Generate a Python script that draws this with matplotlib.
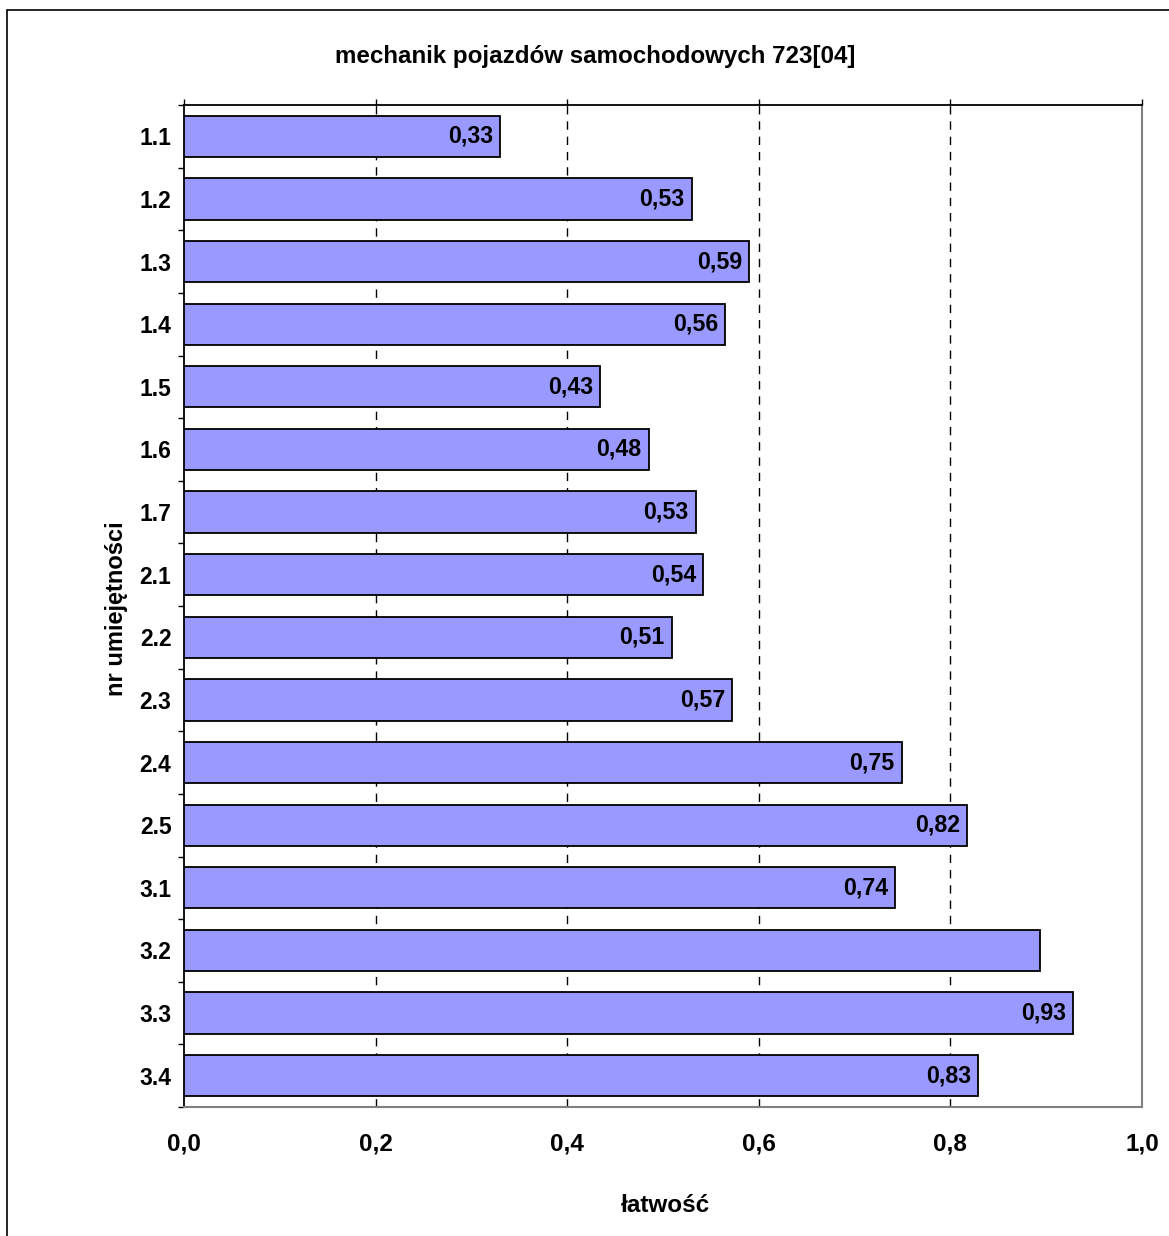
import matplotlib
matplotlib.use("Agg")
import matplotlib.pyplot as plt
from matplotlib.patches import Rectangle
from matplotlib.ticker import FixedLocator
import numpy as np

plt.rcParams['font.family'] = ['Liberation Sans', 'DejaVu Sans']

categories = ["1.1", "1.2", "1.3", "1.4", "1.5", "1.6", "1.7", "2.1", "2.2",
              "2.3", "2.4", "2.5", "3.1", "3.2", "3.3", "3.4"]
values = [0.33, 0.53, 0.59, 0.565, 0.434, 0.485, 0.534, 0.542, 0.509,
          0.572, 0.749, 0.817, 0.742, 0.894, 0.928, 0.829]
value_labels = ["0,33", "0,53", "0,59", "0,56", "0,43", "0,48", "0,53", "0,54",
                "0,51", "0,57", "0,75", "0,82", "0,74", "", "0,93", "0,83"]
x_ticks = [0.0, 0.2, 0.4, 0.6, 0.8, 1.0]
x_tick_labels = ["0,0", "0,2", "0,4", "0,6", "0,8", "1,0"]
title = "mechanik pojazdów samochodowych 723[04]"
xlabel = "łatwość"
ylabel = "nr umiejętności"

W, H = 1169, 1236
fig = plt.figure(figsize=(W / 100, H / 100), dpi=100)

# outer frame (cropped on right/bottom)
fig.patches.append(Rectangle((7 / W, -0.05), 1.1, 1 - 10 / H + 0.05,
                             transform=fig.transFigure, fill=False,
                             edgecolor='black', linewidth=1.2, clip_on=False))

ax_l, ax_r, ax_t, ax_b = 184, 1142, 105, 1107
ax = fig.add_axes([ax_l / W, 1 - ax_b / H, (ax_r - ax_l) / W, (ax_b - ax_t) / H])

n = len(categories)
y = np.arange(n)
ax.barh(y, values, height=0.66, color='#9999FF', edgecolor='black',
        linewidth=1.3, zorder=3)
for yi, v, lab in zip(y, values, value_labels):
    if lab:
        ax.annotate(lab, xy=(v, yi), xytext=(-5, 0), textcoords='offset points',
                    ha='right', va='center', fontsize=16.7, fontweight='bold',
                    zorder=4)

ax.set_xlim(0, 1.0)
ax.set_ylim(n - 0.5, -0.5)

# grid
for gx in x_ticks[1:-1]:
    ax.axvline(gx, color='black', linewidth=1.0, dashes=(6, 5), zorder=1)

ax.set_xticks(x_ticks)
ax.set_xticklabels(x_tick_labels, fontsize=17.5, fontweight='bold')
ax.tick_params(axis='x', top=True, bottom=False, labeltop=False,
               labelbottom=True, direction='out', length=4.5, width=1.0,
               pad=14)

ax.set_yticks(y)
ax.set_yticklabels(categories, fontsize=16.5, fontweight='bold')
ax.tick_params(axis='y', which='major', length=0, pad=9)
ax.yaxis.set_minor_locator(FixedLocator(np.arange(-0.5, n, 1.0)))
ax.tick_params(axis='y', which='minor', length=4.5, width=1.0, direction='out')

ax.spines['left'].set_color('black')
ax.spines['top'].set_color('black')
ax.spines['left'].set_linewidth(1.3)
ax.spines['top'].set_linewidth(1.3)
ax.spines['right'].set_color('#808080')
ax.spines['bottom'].set_color('#808080')
ax.spines['right'].set_linewidth(1.5)
ax.spines['bottom'].set_linewidth(1.5)

fig.text(595 / W, 1 - 56 / H, title, ha='center', va='center',
         fontsize=17.4, fontweight='bold')
fig.text(665 / W, 1 - 1205 / H, xlabel, ha='center', va='center',
         fontsize=17.5, fontweight='bold')
fig.text(117 / W, 1 - 609 / H, ylabel, ha='center', va='center',
         rotation=90, fontsize=17, fontweight='bold')

fig.savefig("out.png", dpi=100)
